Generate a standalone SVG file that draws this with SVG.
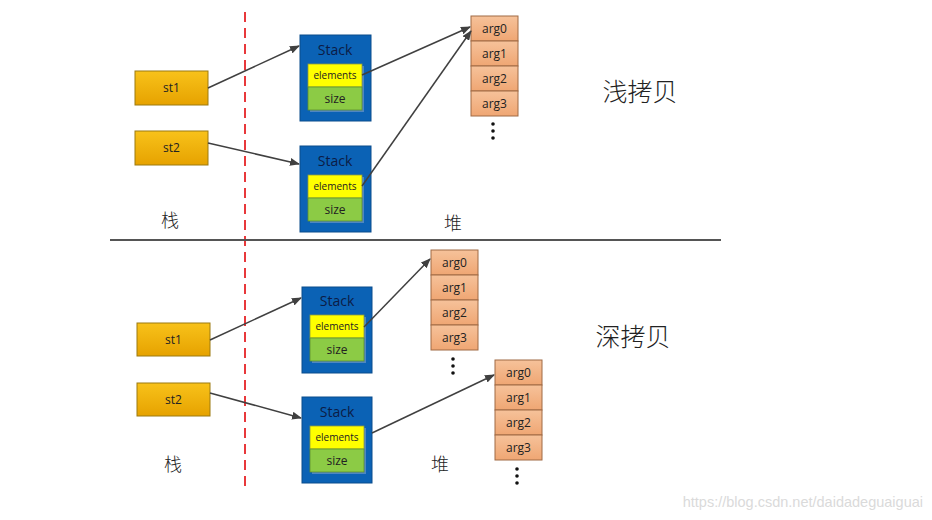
<svg xmlns="http://www.w3.org/2000/svg" width="932" height="520" viewBox="0 0 932 520">
<defs>
<linearGradient id="gold" x1="0" y1="0" x2="0" y2="1"><stop offset="0" stop-color="#F8C21A"/><stop offset="1" stop-color="#E6A200"/></linearGradient>
<linearGradient id="peach" x1="0" y1="0" x2="0" y2="1"><stop offset="0" stop-color="#F6C29A"/><stop offset="1" stop-color="#EFA673"/></linearGradient>
<marker id="ah" markerWidth="10" markerHeight="8" refX="9" refY="4" orient="auto" markerUnits="userSpaceOnUse"><path d="M0,0 L10,4 L0,8 Z" fill="#404040"/></marker>
</defs>
<style>
.ref{fill:url(#gold);stroke:#9C7A10;stroke-width:1}
.stk{fill:#0B62B5;stroke:#0A4C8C;stroke-width:1}
.el{fill:#FFFF00;stroke:#8C9A40;stroke-width:0.8}
.sz{fill:#8CCB45;stroke:#5E8F2E;stroke-width:0.8}
.shd{fill:#4F86C2}
.arg{fill:url(#peach);stroke:#A06A45;stroke-width:1}
.t{font-family:"Open Sans","Liberation Sans",sans-serif;fill:#222;text-anchor:middle}
.ts{font-family:"Open Sans","Liberation Sans",sans-serif;fill:#0C1C45;text-anchor:middle;font-size:14px}
.cj{font-family:"Noto Sans CJK SC",sans-serif;fill:#222;text-anchor:middle;font-weight:300}
.c{stroke:#404040;stroke-width:1.5;fill:none;marker-end:url(#ah)}
.dot{fill:#111}
</style>
<rect width="932" height="520" fill="#fff"/>
<line x1="245" y1="12" x2="245" y2="486" stroke="#E8383B" stroke-width="2" stroke-dasharray="10,6"/>
<line x1="110" y1="240" x2="721" y2="240" stroke="#555" stroke-width="1.8"/>

<g id="top-st1"><rect class="ref" x="135" y="71" width="73" height="34"/><text class="t" x="171.5" y="92" font-size="12">st1</text></g>
<g id="top-st2"><rect class="ref" x="135" y="131" width="73" height="34"/><text class="t" x="171.5" y="152" font-size="12">st2</text></g>

<g id="top-stack1">
<rect class="stk" x="300" y="35" width="71" height="86"/>
<text class="ts" x="335" y="55">Stack</text>
<rect class="shd" x="310" y="66" width="54" height="46"/>
<rect class="el" x="308" y="64" width="54" height="23"/><text class="t" x="335" y="79" font-size="10">elements</text>
<rect class="sz" x="308" y="87" width="54" height="23"/><text class="t" x="335" y="102.5" font-size="12">size</text>
</g>
<g id="top-stack2">
<rect class="stk" x="300" y="146" width="71" height="86"/>
<text class="ts" x="335" y="166">Stack</text>
<rect class="shd" x="310" y="177" width="54" height="46"/>
<rect class="el" x="308" y="175" width="54" height="23"/><text class="t" x="335" y="190" font-size="10">elements</text>
<rect class="sz" x="308" y="198" width="54" height="23"/><text class="t" x="335" y="213.5" font-size="12">size</text>
</g>

<g id="top-args">
<rect class="arg" x="471" y="16" width="47" height="25"/><text class="t" x="494.5" y="33" font-size="12">arg0</text>
<rect class="arg" x="471" y="41" width="47" height="25"/><text class="t" x="494.5" y="58" font-size="12">arg1</text>
<rect class="arg" x="471" y="66" width="47" height="25"/><text class="t" x="494.5" y="83" font-size="12">arg2</text>
<rect class="arg" x="471" y="91" width="47" height="25"/><text class="t" x="494.5" y="108" font-size="12">arg3</text>
<circle class="dot" cx="493" cy="124" r="1.8"/><circle class="dot" cx="493" cy="131" r="1.8"/><circle class="dot" cx="493" cy="138" r="1.8"/>
</g>

<g id="top-labels">
<text class="cj" x="170" y="227" font-size="18">栈</text>
<text class="cj" x="453" y="230" font-size="18">堆</text>
<text class="cj" x="640" y="101" font-size="25">浅拷贝</text>
</g>

<g id="bot-st1"><rect class="ref" x="137" y="323" width="73" height="33"/><text class="t" x="173.5" y="344" font-size="12">st1</text></g>
<g id="bot-st2"><rect class="ref" x="137" y="383" width="73" height="33"/><text class="t" x="173.5" y="404" font-size="12">st2</text></g>

<g id="bot-stack1">
<rect class="stk" x="302" y="287" width="70" height="86"/>
<text class="ts" x="337" y="306">Stack</text>
<rect class="shd" x="312" y="317" width="54" height="46"/>
<rect class="el" x="310" y="315" width="54" height="23"/><text class="t" x="337" y="330" font-size="10">elements</text>
<rect class="sz" x="310" y="338" width="54" height="23"/><text class="t" x="337" y="353.5" font-size="12">size</text>
</g>
<g id="bot-stack2">
<rect class="stk" x="302" y="397" width="70" height="86"/>
<text class="ts" x="337" y="417">Stack</text>
<rect class="shd" x="312" y="428" width="54" height="46"/>
<rect class="el" x="310" y="426" width="54" height="23"/><text class="t" x="337" y="441" font-size="10">elements</text>
<rect class="sz" x="310" y="449" width="54" height="23"/><text class="t" x="337" y="464.5" font-size="12">size</text>
</g>

<g id="bot-args1">
<rect class="arg" x="431" y="250" width="47" height="25"/><text class="t" x="454.5" y="267" font-size="12">arg0</text>
<rect class="arg" x="431" y="275" width="47" height="25"/><text class="t" x="454.5" y="292" font-size="12">arg1</text>
<rect class="arg" x="431" y="300" width="47" height="25"/><text class="t" x="454.5" y="317" font-size="12">arg2</text>
<rect class="arg" x="431" y="325" width="47" height="25"/><text class="t" x="454.5" y="342" font-size="12">arg3</text>
<circle class="dot" cx="453" cy="359" r="1.8"/><circle class="dot" cx="453" cy="366" r="1.8"/><circle class="dot" cx="453" cy="373" r="1.8"/>
</g>
<g id="bot-args2">
<rect class="arg" x="495" y="360" width="47" height="25"/><text class="t" x="518.5" y="377" font-size="12">arg0</text>
<rect class="arg" x="495" y="385" width="47" height="25"/><text class="t" x="518.5" y="402" font-size="12">arg1</text>
<rect class="arg" x="495" y="410" width="47" height="25"/><text class="t" x="518.5" y="427" font-size="12">arg2</text>
<rect class="arg" x="495" y="435" width="47" height="25"/><text class="t" x="518.5" y="452" font-size="12">arg3</text>
<circle class="dot" cx="517" cy="469" r="1.8"/><circle class="dot" cx="517" cy="476" r="1.8"/><circle class="dot" cx="517" cy="483" r="1.8"/>
</g>

<g id="bot-labels">
<text class="cj" x="173" y="471" font-size="18">栈</text>
<text class="cj" x="440" y="471" font-size="18">堆</text>
<text class="cj" x="633" y="346" font-size="25">深拷贝</text>
</g>

<g id="connectors">
<line class="c" x1="208" y1="88" x2="299" y2="46"/>
<line class="c" x1="208" y1="143" x2="299" y2="164"/>
<line class="c" x1="362" y1="75" x2="470" y2="27"/>
<line class="c" x1="362" y1="186" x2="471" y2="31"/>
<line class="c" x1="210" y1="340" x2="301" y2="298"/>
<line class="c" x1="210" y1="393" x2="301" y2="418"/>
<line class="c" x1="364" y1="327" x2="430" y2="259"/>
<line class="c" x1="372" y1="433" x2="494" y2="375"/>
</g>

<text x="923" y="507" font-family="Liberation Sans,sans-serif" font-size="14.5" fill="#DADADA" text-anchor="end">https://blog.csdn.net/daidadeguaiguai</text>
</svg>
